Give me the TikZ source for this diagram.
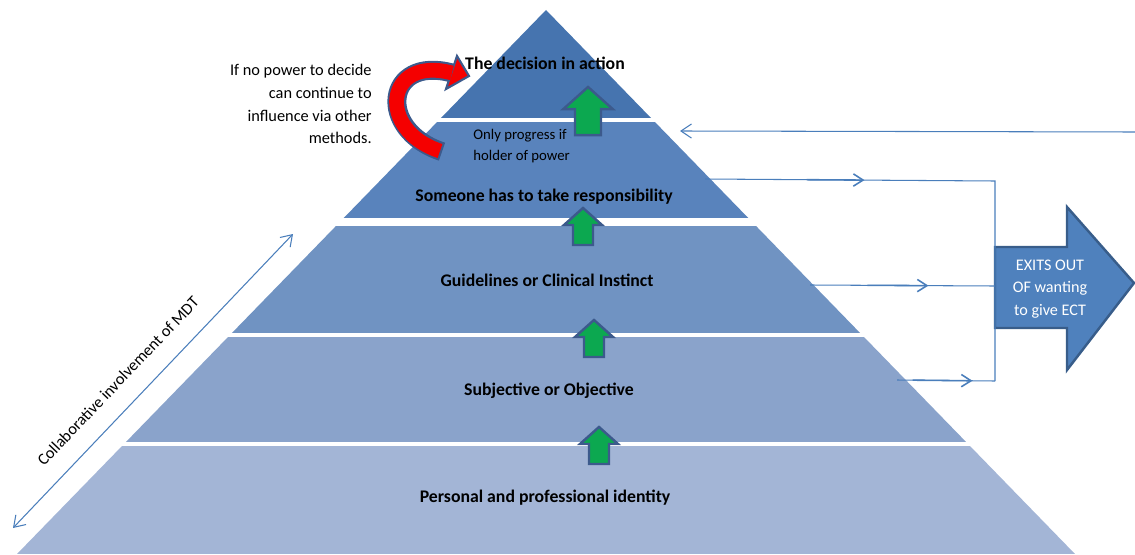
\documentclass[tikz,border=0pt]{standalone}
\usepackage{fontspec}
\setmainfont{Carlito}
\usetikzlibrary{arrows.meta,calc}
\definecolor{layA}{RGB}{70,116,175}
\definecolor{layB}{RGB}{89,131,188}
\definecolor{layC}{RGB}{112,147,194}
\definecolor{layD}{RGB}{138,163,203}
\definecolor{layE}{RGB}{163,181,214}
\definecolor{linkblue}{RGB}{74,126,187}
\definecolor{edgeblue}{RGB}{60,90,140}
\definecolor{upgreen}{RGB}{12,168,80}
\definecolor{exitfill}{RGB}{79,129,189}
\definecolor{exitedge}{RGB}{56,93,138}
\definecolor{curvered}{RGB}{245,0,0}
\tikzset{
  layerlabel/.style={font=\fontsize{10.1}{12}\selectfont\bfseries, text=black, inner sep=0pt},
  notetext/.style={font=\fontsize{9.3}{13}\selectfont, text=black, inner sep=0pt},
  conn/.style={draw=linkblue, line width=0.6pt},
  connhead/.style={draw=linkblue, line width=0.9pt, -{Straight Barb[length=5.5pt,width=7pt]}},
  pics/uparr/.style={code={
    \draw[draw=edgeblue, fill=upgreen, line width=1.4pt, line join=miter]
      (0,0) -- (19,17) -- (10,17) -- (10,37) -- (-10,37) -- (-10,17) -- (-19,17) -- cycle;}}
}
\begin{document}
\begin{tikzpicture}[x=0.02cm,y=-0.02cm]
\useasboundingbox (0,0) rectangle (1135,554);
% pyramid
\begin{scope}
\clip (546,10) -- (17,554) -- (1075,554) -- cycle;
\fill[layA] (0,0) rectangle (1135,118);
\fill[layB] (0,122) rectangle (1135,218);
\fill[layC] (0,226) rectangle (1135,333);
\fill[layD] (0,337) rectangle (1135,442);
\fill[layE] (0,446) rectangle (1135,554);
\end{scope}
% layer labels
\node[layerlabel] (l1) at (545,63) {The decision in action};
\node[layerlabel] (l2) at (544,197) {Someone has to take responsibility};
\node[layerlabel] (l3) at (547,280) {Guidelines or Clinical Instinct};
\node[layerlabel] (l4) at (549,391) {Subjective or Objective};
\node[layerlabel] (l5) at (545,498) {Personal and professional identity};
\node[font=\fontsize{8.4}{12}\selectfont, align=left, anchor=west, inner sep=0pt] (prog) at (473,146) {Only progress if\\holder of power};
% green arrows
\pic[scale=1.3] at (588,87) {uparr};
\pic at (583,208) {uparr};
\pic at (594,320) {uparr};
\pic at (599,427) {uparr};
% note and red curved arrow
\node[notetext, align=right, anchor=east] (note) at (372,104) {If no power to decide\\can continue to\\influence via other\\methods.};
\coordinate (rs) at (440,151);
\coordinate (re) at (452,73);
\draw[edgeblue, line width=10.8pt, shorten <=-1.2pt] (rs) .. controls (376,130) and (385,55) .. (re);
\draw[draw=edgeblue, fill=curvered, line width=1.2pt, line join=miter] (457,56) -- (469,76) -- (446,89) -- cycle;
\draw[curvered, line width=8.4pt] (rs) .. controls (376,130) and (385,55) .. (re);
% exit arrow
\draw[fill=exitfill, draw=exitedge, line width=1.4pt, line join=miter]
  (995,247) -- (1067,247) -- (1067,207) -- (1134,283) -- (1067,370) -- (1067,328) -- (995,328) -- cycle;
\node[font=\fontsize{9.2}{13}\selectfont, text=white, align=center, inner sep=0pt] (exits) at (1050,289) {EXITS OUT\\OF wanting\\to give ECT};
% connectors
\coordinate (r2) at (705,179);
\coordinate (j2) at (995,181);
\coordinate (r3) at (810,285);
\coordinate (j3) at (995,286);
\coordinate (r4) at (897,380);
\coordinate (j4) at (995,381);
\draw[conn] (r2) -- (j2) -- (j4);
\draw[conn] (r3) -- (j3);
\draw[conn] (r4) -- (j4);
\draw[connhead] ($(r2)!0.35!(j2)$) -- ($(r2)!0.55!(j2)$);
\draw[connhead] ($(r3)!0.31!(j3)$) -- ($(r3)!0.64!(j3)$);
\draw[connhead] ($(r4)!0.16!(j4)$) -- ($(r4)!0.77!(j4)$);
\coordinate (rin) at (1135,132);
\coordinate (lin) at (680,131);
\draw[conn, -{Straight Barb[length=6pt,width=8pt]}] (rin) -- (lin);
% MDT double arrow
\coordinate (m1) at (13,528);
\coordinate (m2) at (293,234);
\draw[conn, {Straight Barb[length=6pt,width=8pt]}-{Straight Barb[length=6pt,width=8pt]}] (m1) -- (m2);
\node[font=\fontsize{9.3}{11}\selectfont, rotate=46.4, inner sep=0pt] (mdt) at (118,381) {Collaborative involvement of MDT};
\end{tikzpicture}
\end{document}
